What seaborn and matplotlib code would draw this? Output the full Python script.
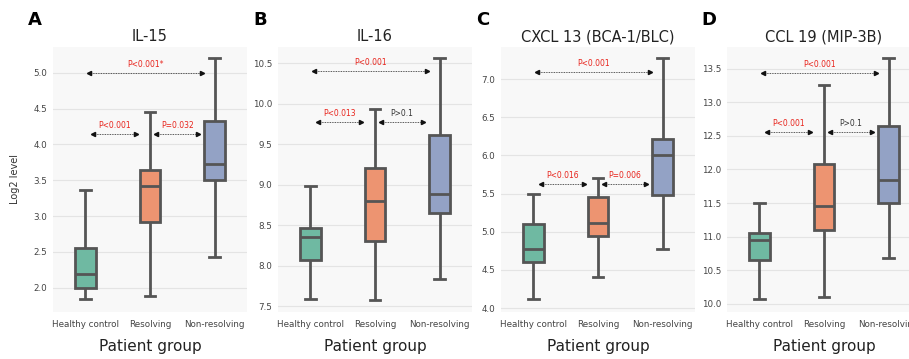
import numpy as np
import pandas as pd
import matplotlib
matplotlib.use("Agg")
import matplotlib.pyplot as plt
import seaborn as sns

groups = ["Healthy control", "Resolving", "Non-resolving"]
palette = ["#66c2a5", "#fc8d62", "#8da0cb"]

# box stats per group: [whisker low, q1, median, q3, whisker high]
il15 = [[1.84, 2.00, 2.19, 2.56, 3.36],
        [1.89, 2.92, 3.42, 3.64, 4.45],
        [2.43, 3.50, 3.73, 4.32, 5.20]]
il16 = [[7.59, 8.07, 8.36, 8.47, 8.98],
        [7.58, 8.31, 8.80, 9.21, 9.94],
        [7.84, 8.65, 8.89, 9.62, 10.56]]
cxcl13 = [[4.12, 4.61, 4.78, 5.10, 5.50],
          [4.41, 4.95, 5.11, 5.45, 5.70],
          [4.78, 5.48, 6.00, 6.21, 7.27]]
ccl19 = [[10.07, 10.65, 10.95, 11.05, 11.50],
         [10.10, 11.10, 11.45, 12.08, 13.25],
         [10.69, 11.50, 11.84, 12.65, 13.65]]

titles = ["IL-15", "IL-16", "CXCL 13 (BCA-1/BLC)", "CCL 19 (MIP-3B)"]
letters = ["A", "B", "C", "D"]
datasets = [il15, il16, cxcl13, ccl19]
ylims = [(1.66, 5.36), (7.43, 10.70), (3.95, 7.42), (9.88, 13.82)]
yticks = [np.arange(2.0, 5.01, 0.5), np.arange(7.5, 10.51, 0.5),
          np.arange(4.0, 7.01, 0.5), np.arange(10.0, 13.51, 0.5)]

# annotations: (x0, x1, y, text, color)
red = "#e8231b"
annots = [
    [(0.05, 1.81, 5.00, "P<0.001*", red), (0.12, 0.78, 4.15, "P<0.001", red),
     (1.10, 1.74, 4.15, "P=0.032", red)],
    [(0.05, 1.81, 10.40, "P<0.001", red), (0.12, 0.78, 9.77, "P<0.013", red),
     (1.10, 1.74, 9.77, "P>0.1", "#333333")],
    [(0.05, 1.81, 7.09, "P<0.001", red), (0.12, 0.78, 5.62, "P<0.016", red),
     (1.10, 1.74, 5.62, "P=0.006", red)],
    [(0.05, 1.81, 13.43, "P<0.001", red), (0.12, 0.78, 12.56, "P<0.001", red),
     (1.10, 1.74, 12.56, "P>0.1", "#333333")],
]

W, H = 909, 359
fig = plt.figure(figsize=(W / 100, H / 100), dpi=100)
lefts = [53, 278, 501, 727]
width_px = 194
bottom_px, top_px = 312, 47

for i in range(4):
    ax = fig.add_axes([lefts[i] / W, (H - bottom_px) / H, width_px / W, (bottom_px - top_px) / H])
    ax.set_facecolor("#f8f8f8")
    for s in ax.spines.values():
        s.set_visible(False)
    ax.set_axisbelow(True)
    ax.grid(True, color="#e4e4e4", lw=0.8)
    rows = []
    for g, vals in zip(groups, datasets[i]):
        for v in vals:
            rows.append({"group": g, "value": v})
    df = pd.DataFrame(rows)
    sns.boxplot(data=df, x="group", y="value", hue="group", order=groups, hue_order=groups,
                palette=palette, whis=(0, 100), width=0.32, linewidth=2.0,
                linecolor="#555555", saturation=0.8, legend=False, ax=ax)
    ax.set_xlim(-0.5, 2.5)
    ax.set_ylim(*ylims[i])
    ax.set_yticks(yticks[i])
    ax.set_yticklabels([f"{t:.1f}" for t in yticks[i]])
    ax.tick_params(axis="both", length=0, labelsize=6.3, labelcolor="#444444", pad=4)
    ax.tick_params(axis="x", labelsize=6.3, pad=6)
    ax.set_xlabel("Patient group", fontsize=11, color="#222222", labelpad=7)
    ax.set_ylabel("Log2 level" if i == 0 else "", fontsize=7, color="#333333")
    ax.set_title(titles[i], fontsize=10.5, color="#222222", pad=4)
    for (x0, x1, y, txt, col) in annots[i]:
        ax.plot([x0, x1], [y, y], ls=(0, (1, 1)), lw=0.6, color="#222222")
        ax.plot([x0], [y], marker="<", ms=3, color="#111111", lw=0)
        ax.plot([x1], [y], marker=">", ms=3, color="#111111", lw=0)
        yr = ylims[i][1] - ylims[i][0]
        ax.text((x0 + x1) / 2, y + yr * 0.015, txt, color=col, fontsize=5.5,
                ha="center", va="bottom")
    fig.text((lefts[i] - 18) / W, 1 - 20 / H, letters[i], fontsize=13, fontweight="bold",
             ha="center", va="center")

fig.axes[0].yaxis.set_label_coords(-0.17, 0.5)
fig.savefig("out.png", dpi=100)
